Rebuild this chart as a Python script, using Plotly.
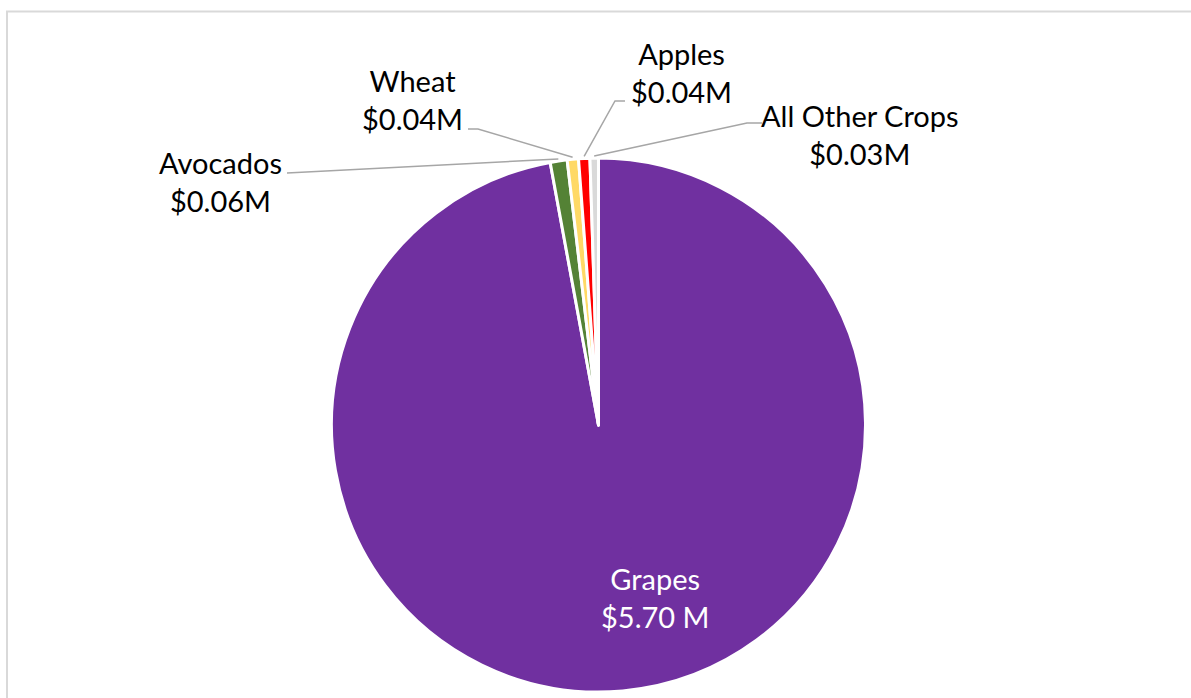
import math
import plotly.graph_objects as go

# ---- data ----
labels = ["Grapes", "Avocados", "Wheat", "Apples", "All Other Crops"]
values = [5.70, 0.06, 0.04, 0.04, 0.03]
value_text = ["$5.70 M", "$0.06M", "$0.04M", "$0.04M", "$0.03M"]
colors = ["#7030A0", "#548235", "#FFD966", "#FF0000", "#D9D9D9"]

# ---- layout constants (pixels) ----
W, H = 1191, 698
CX, CY, R = 598.5, 425, 267
FONT = "Lato, Carlito, Calibri, sans-serif"
FS = 29

label_pos = {
    "Grapes": (655, 597),
    "Avocados": (220, 182),
    "Wheat": (412, 100),
    "Apples": (681, 72),
    "All Other Crops": (860, 134),
}
elbows = {
    "Avocados": [(287, 173)],
    "Wheat": [(468, 129), (478, 129)],
    "Apples": [(625, 101), (615, 101)],
    "All Other Crops": [(762, 123), (747, 123)],
}


def px(x):
    return x / W


def py(y):
    return 1 - y / H


dom_x = [px(CX - R), px(CX + R)]
dom_y = [py(CY + R), py(CY - R)]

fig = go.Figure(
    go.Pie(
        labels=labels,
        values=values,
        sort=False,
        direction="clockwise",
        rotation=0,
        textinfo="none",
        marker=dict(colors=colors, line=dict(color="white", width=3)),
        domain=dict(x=dom_x, y=dom_y),
        showlegend=False,
        hoverinfo="label+value",
    )
)

annotations = []
shapes = []
total = sum(values)
cum = 0.0
for lab, val, vt in zip(labels, values, value_text):
    mid = (cum + val / 2) / total * 2 * math.pi
    cum += val
    lx, ly = label_pos[lab]
    color = "white" if lab == "Grapes" else "black"
    annotations.append(
        dict(
            x=px(lx), y=py(ly), xref="paper", yref="paper",
            text=f"{lab}<br>{vt}", showarrow=False,
            xanchor="center", yanchor="middle",
            font=dict(family=FONT, size=FS, color=color),
        )
    )
    if lab in elbows:
        ex = CX + (R + 2) * math.sin(mid)
        ey = CY - (R + 2) * math.cos(mid)
        pts = elbows[lab] + [(ex, ey)]
        path = "M " + " L ".join(f"{px(x):.5f},{py(y):.5f}" for x, y in pts)
        shapes.append(
            dict(type="path", xref="paper", yref="paper", path=path,
                 line=dict(color="#A6A6A6", width=1.5))
        )

# chart frame (top and left edges visible)
shapes.append(dict(type="line", xref="paper", yref="paper",
                   x0=px(6), x1=1.0, y0=py(11.5), y1=py(11.5),
                   line=dict(color="#D9D9D9", width=2)))
shapes.append(dict(type="line", xref="paper", yref="paper",
                   x0=px(7), x1=px(7), y0=py(11.5), y1=0.0,
                   line=dict(color="#D9D9D9", width=2)))

fig.update_layout(
    width=W, height=H,
    margin=dict(l=0, r=0, t=0, b=0),
    paper_bgcolor="white",
    plot_bgcolor="white",
    annotations=annotations,
    shapes=shapes,
    font=dict(family=FONT),
)

fig.write_html("out.html")
